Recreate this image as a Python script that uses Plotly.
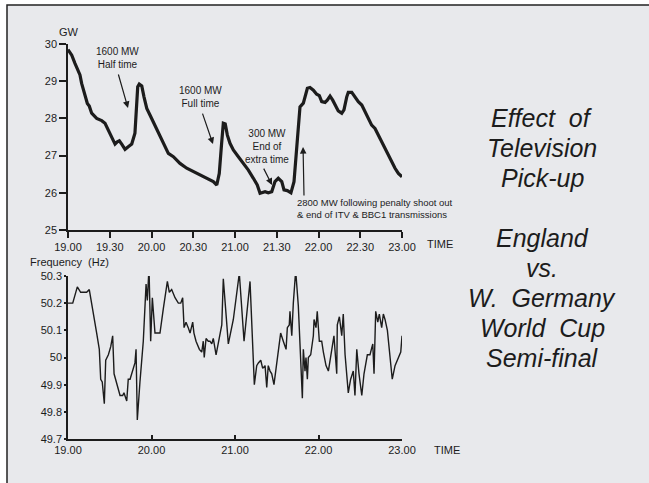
import plotly.graph_objects as go

# ---------------- data ----------------
# minutes after 19.00
power_minutes = [0, 2.7, 5.0, 7.4, 8.6, 9.8, 12.2, 13.9, 15.3, 17.0, 20.6, 24.2, 26.6, 29.0, 31.4,
                 33.8, 35.4, 36.9, 38.6, 41.0, 43.3, 45.8, 48.1, 49.4, 50.1, 51.2, 53.0, 54.6, 56.6,
                 58.9, 62.5, 66.1, 69.7, 72.1, 75.7, 80.5, 85.3, 90.0, 94.9, 99.7, 104.4, 106.9,
                 108.7, 110.2, 111.6, 113.0, 114.5, 116.4, 118.8, 122.4, 126.0, 129.6, 133.2, 136.0,
                 138.0, 141.6, 143.9, 146.4, 148.7, 151.1, 153.6, 155.2, 157.6, 160.2, 162.4, 164.3,
                 165.5, 166.7, 169.1, 170.3, 172.0, 173.9, 176.3, 178.7, 180.6, 182.3, 184.7, 186.3,
                 188.3, 190.2, 191.9, 194.2, 196.7, 198.3, 200.3, 201.4, 203.9, 206.2, 208.6, 211.1,
                 213.4, 215.8, 218.2, 220.6, 223.0, 225.4, 227.8, 230.2, 232.6, 235.0, 237.4, 240.0]
power_gw = [29.85, 29.70, 29.48, 29.30, 29.17, 28.94, 28.63, 28.40, 28.33, 28.14, 28.00, 27.94, 27.87,
            27.69, 27.47, 27.31, 27.37, 27.40, 27.31, 27.17, 27.24, 27.31, 27.60, 28.31, 28.85, 28.92,
            28.87, 28.58, 28.27, 28.09, 27.82, 27.55, 27.24, 27.06, 26.97, 26.79, 26.66, 26.57, 26.48,
            26.39, 26.30, 26.21, 26.52, 27.24, 27.87, 27.85, 27.55, 27.33, 27.15, 26.97, 26.79, 26.61,
            26.39, 26.21, 25.99, 26.03, 26.00, 26.03, 26.30, 26.39, 26.30, 26.08, 26.06, 26.00, 26.30,
            27.20, 27.91, 28.31, 28.41, 28.58, 28.81, 28.83, 28.76, 28.65, 28.61, 28.45, 28.43, 28.49,
            28.60, 28.49, 28.36, 28.20, 28.14, 28.23, 28.58, 28.70, 28.70, 28.58, 28.45, 28.36, 28.18,
            28.00, 27.82, 27.73, 27.55, 27.37, 27.20, 27.02, 26.84, 26.66, 26.52, 26.43]

freq_minutes = [0, 3.4, 6.7, 9.1, 11.5, 13.4, 15.3, 18.2, 20.6, 22.5, 23.5, 24.6, 26.1, 27.1, 29.0,
                30.7, 32.1, 33.1, 35.4, 37.4, 39.3, 40.2, 42.2, 43.3, 44.6, 46.5, 48.1, 48.9, 49.8,
                51.7, 54.1, 56.1, 57.0, 58.2, 59.4, 60.6, 62.5, 63.7, 66.1, 68.5, 71.4, 72.8, 74.5,
                76.9, 79.3, 81.0, 82.4, 83.4, 84.8, 86.4, 87.7, 89.6, 90.5, 92.0, 94.4, 96.1, 97.2,
                97.9, 99.2, 100.8, 102.0, 103.3, 104.4, 106.4, 108.7, 110.5, 111.6, 115.2, 118.8,
                123.1, 126.5, 130.8, 133.9, 135.6, 136.8, 138.5, 139.9, 141.6, 142.8, 143.9, 145.2,
                146.4, 148.0, 151.1, 152.8, 154.7, 156.7, 157.6, 159.0, 159.5, 160.8, 161.9, 163.6,
                165.5, 167.2, 168.4, 169.1, 170.3, 171.0, 172.0, 172.7, 174.4, 176.3, 176.8, 178.2,
                179.1, 180.6, 182.3, 183.5, 185.4, 187.1, 189.5, 191.1, 193.1, 193.5, 195.0, 196.7,
                197.8, 199.1, 201.4, 203.1, 205.0, 206.2, 207.5, 209.1, 211.1, 212.7, 215.1, 217.0,
                219.0, 219.9, 221.1, 222.6, 223.7, 225.4, 226.6, 227.8, 229.5, 231.4, 233.0, 235.0,
                236.6, 238.1, 239.1, 240.0]
freq_hz = [50.20, 50.20, 50.26, 50.24, 50.24, 50.24, 50.25, 50.17, 50.09, 50.03, 49.92, 49.91, 49.83,
           49.99, 50.01, 50.04, 50.08, 49.94, 49.90, 49.86, 49.86, 49.87, 49.84, 49.92, 49.92, 49.95,
           49.98, 50.03, 49.77, 49.91, 50.06, 50.27, 50.21, 50.33, 50.06, 50.22, 50.09, 50.09, 50.09,
           50.18, 50.28, 50.24, 50.25, 50.22, 50.20, 50.20, 50.22, 50.11, 50.13, 50.11, 50.09, 50.13,
           50.09, 50.06, 50.03, 50.02, 50.06, 50.00, 50.07, 50.06, 50.06, 50.05, 50.07, 50.01, 50.07,
           50.12, 50.29, 50.05, 50.14, 50.31, 50.06, 50.28, 49.90, 49.97, 49.98, 49.99, 49.96, 49.97,
           49.89, 49.97, 49.95, 49.94, 49.90, 50.02, 50.09, 50.06, 50.03, 50.11, 50.12, 50.17, 50.08,
           50.20, 50.32, 50.19, 49.95, 49.85, 50.03, 49.95, 50.00, 49.92, 50.00, 50.01, 50.08, 50.14,
           50.11, 50.17, 50.06, 50.06, 50.02, 49.97, 49.95, 50.03, 50.08, 49.94, 50.12, 50.15, 50.08,
           50.16, 50.01, 49.87, 49.92, 49.95, 49.86, 50.03, 49.94, 49.86, 49.94, 50.01, 50.01, 50.05,
           49.94, 50.17, 50.13, 50.16, 50.11, 50.16, 50.14, 50.10, 50.01, 49.92, 49.97, 49.99, 50.01,
           50.02, 50.08]

power_ticks = [0, 30, 60, 90, 120, 150, 180, 210, 240]
power_ticklabels = ["19.00", "19.30", "20.00", "20.30", "21.00", "21.30", "22.00", "22.30", "23.00"]
gw_ticks = [25, 26, 27, 28, 29, 30]
freq_ticks = [0, 60, 120, 180, 240]
freq_ticklabels = ["19.00", "20.00", "21.00", "22.00", "23.00"]
hz_ticks = [49.7, 49.8, 49.9, 50.0, 50.1, 50.2, 50.3]
hz_ticklabels = ["49.7", "49.8", "49.9", "50", "50.1", "50.2", "50.3"]

title_lines = ["Effect  of", "Television", "Pick-up",
               "England", "vs.", "W.  Germany", "World  Cup", "Semi-final"]

# ---------------- layout helpers ----------------
W, H = 649, 483
L, R = 68, 402
FONT = "Liberation Sans, Arial, Helvetica, sans-serif"
INK = "#1c1c1c"
BG = "#e8e9ec"


def px(x):
    return (x - L) / (R - L)


def py(y):
    return 1 - y / H


fig = go.Figure()
fig.add_trace(go.Scatter(x=power_minutes, y=power_gw, mode="lines",
                         line=dict(color=INK, width=3.2, shape="linear"),
                         xaxis="x", yaxis="y", showlegend=False, hoverinfo="skip"))
fig.add_trace(go.Scatter(x=freq_minutes, y=freq_hz, mode="lines",
                         line=dict(color=INK, width=1.4),
                         xaxis="x2", yaxis="y2", showlegend=False, hoverinfo="skip"))

axis_common = dict(showgrid=False, zeroline=False, showline=True, linecolor=INK, linewidth=1.5,
                   tickcolor=INK, tickwidth=1.5, automargin=False,
                   tickfont=dict(family=FONT, size=11, color=INK))

fig.update_layout(
    width=W, height=H,
    margin=dict(l=L, r=W - R, t=0, b=0, pad=0, autoexpand=False),
    paper_bgcolor="white",
    plot_bgcolor="rgba(0,0,0,0)",
    xaxis=dict(domain=[0, 1], anchor="y", range=[0, 240], tickvals=power_ticks,
               ticktext=power_ticklabels, ticks="outside", ticklen=6, **axis_common),
    yaxis=dict(domain=[py(230), py(44)], anchor="x", range=[25, 30], tickvals=gw_ticks,
               ticks="outside", ticklen=7, **axis_common),
    xaxis2=dict(domain=[0, 1], anchor="y2", range=[0, 240], tickvals=freq_ticks,
                ticktext=freq_ticklabels, ticks="inside", ticklen=4, **axis_common),
    yaxis2=dict(domain=[py(439), py(276)], anchor="x2", range=[49.7, 50.3], tickvals=hz_ticks,
                ticktext=hz_ticklabels, ticks="outside", ticklen=2, **axis_common),
    shapes=[dict(type="rect", xref="paper", yref="paper", x0=px(7), x1=px(660), y0=py(490), y1=py(5),
                 fillcolor=BG, line=dict(color="#222", width=1.5), layer="below")],
)

small = dict(family=FONT, size=10, color=INK)
lab = dict(family=FONT, size=11, color=INK)
big = dict(family=FONT, size=25, color=INK)


def note(text, x, y, font, **kw):
    d = dict(text=text, x=px(x), y=py(y), xref="paper", yref="paper", showarrow=False,
             xanchor="center", yanchor="middle", font=font)
    d.update(kw)
    return d


annotations = [
    note("GW", 69, 32, lab),
    note("Frequency  (Hz)", 69, 262, lab),
    note("TIME", 440, 244, lab),
    note("TIME", 447, 450, lab),
    note("1600 MW<br>Half time", 117, 58, small),
    note("1600 MW<br>Full time", 200, 97, small),
    note("300 MW<br>End of<br>extra time", 267, 146, small),
    note("2800 MW following penalty shoot out<br>&amp; end of ITV &amp; BBC1 transmissions",
         295, 208, dict(family=FONT, size=9.5, color=INK), xanchor="left", align="left"),
]
title_y = [118, 148, 178, 238, 268, 298, 328, 358]
for line, yy in zip(title_lines, title_y):
    annotations.append(note("<i>" + line + "</i>", 542, yy, big))

# arrows (head at x,y; tail at ax,ay) in data coordinates of the power chart
arrows = [((43.1, 28.28), (35.9, 29.22)),
          ((104.2, 27.31), (96.3, 28.17)),
          ((146.6, 26.21), (140.1, 26.69)),
          ((168.9, 27.23), (169.6, 25.89))]
for (hx, hy), (tx, ty) in arrows:
    annotations.append(dict(text="", x=hx, y=hy, ax=tx, ay=ty, xref="x", yref="y", axref="x", ayref="y",
                            showarrow=True, arrowhead=2, arrowsize=1.1, arrowwidth=1.2, arrowcolor=INK))
fig.update_layout(annotations=annotations)

fig.write_html("out.html", config={"displayModeBar": False},
               post_script="document.body.style.margin='0px';")
